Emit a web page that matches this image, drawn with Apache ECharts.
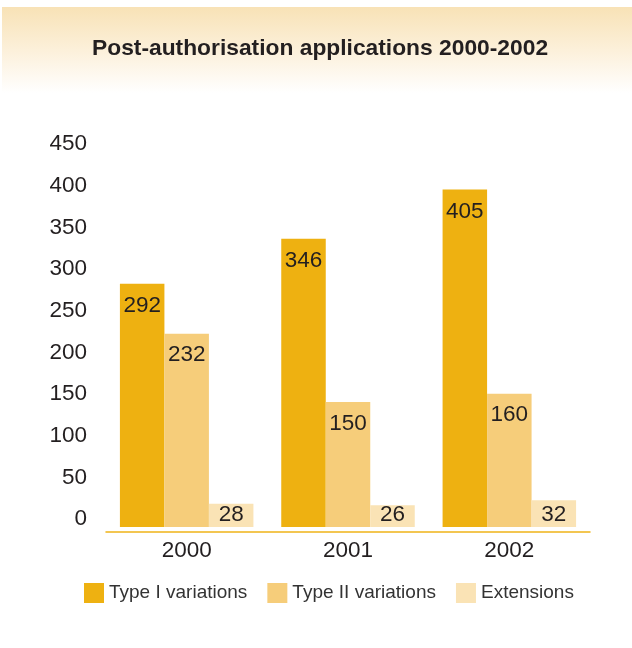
<!DOCTYPE html>
<html>
<head>
<meta charset="utf-8">
<script src="https://cdn.jsdelivr.net/npm/echarts@6/dist/echarts.min.js"></script>
<style>html,body{margin:0;padding:0;background:#fff}#c{width:632px;height:648px}</style>
</head>
<body>
<div id="c"></div>
<script>
var years = ['2000', '2001', '2002'];
var typeI = [292, 346, 405];
var typeII = [232, 150, 160];
var extensions = [28, 26, 32];
var seriesNames = ['Type I variations', 'Type II variations', 'Extensions'];
var yTicks = { min: 0, max: 450, interval: 50 };

var chart = echarts.init(document.getElementById('c'), null, { renderer: 'canvas' });
var font = 'Liberation Sans, Arial, Helvetica, sans-serif';
var labelBase = { show: true, color: '#231f20', fontSize: 22.5, fontFamily: font };

chart.setOption({
  animation: false,
  backgroundColor: '#fff',
  graphic: [{
    type: 'rect', z: -10, silent: true,
    shape: { x: 2, y: 7, width: 630, height: 86 },
    style: {
      fill: {
        type: 'linear', x: 0, y: 0, x2: 0, y2: 1,
        colorStops: [
          { offset: 0, color: '#f8e2b6' },
          { offset: 0.5, color: '#fcf0da' },
          { offset: 1, color: '#ffffff' }
        ]
      }
    }
  }],
  title: {
    text: 'Post-authorisation applications 2000-2002',
    left: 87, top: 32,
    textStyle: { fontFamily: font, fontWeight: 'bold', fontSize: 22.8, color: '#231f20' }
  },
  legend: {
    bottom: 40, left: 79,
    itemWidth: 20, itemHeight: 20, itemGap: 20,
    icon: 'rect',
    textStyle: { fontFamily: font, fontSize: 19, color: '#333' },
    data: seriesNames
  },
  grid: { left: 106, right: 42, top: 152, bottom: 121, containLabel: false },
  xAxis: {
    type: 'category', data: years, offset: 5,
    axisLine: { onZero: false, lineStyle: { color: '#f0b418', width: 1.5 } },
    axisTick: { show: false },
    axisLabel: { margin: 7, fontSize: 22.5, color: '#231f20', fontFamily: font }
  },
  yAxis: {
    type: 'value', min: yTicks.min, max: yTicks.max, interval: yTicks.interval,
    axisLine: { show: false }, axisTick: { show: false }, splitLine: { show: false },
    axisLabel: { margin: 19, fontSize: 22.5, color: '#231f20', fontFamily: font, verticalAlign: 'bottom', lineHeight: 16 }
  },
  series: [
    { name: seriesNames[0], type: 'bar', data: typeI, barWidth: 44.5, barGap: '0%',
      itemStyle: { color: '#eeb111' },
      label: Object.assign({ position: 'insideTop', distance: 11 }, labelBase) },
    { name: seriesNames[1], type: 'bar', data: typeII, barWidth: 44.5, barGap: '0%',
      itemStyle: { color: '#f6cd7a' },
      label: Object.assign({ position: 'insideTop', distance: 10 }, labelBase) },
    { name: seriesNames[2], type: 'bar', data: extensions, barWidth: 44.5, barGap: '0%',
      itemStyle: { color: '#fae3b5' },
      label: Object.assign({ position: 'insideBottom', distance: 1 }, labelBase) }
  ]
});
</script>
</body>
</html>
